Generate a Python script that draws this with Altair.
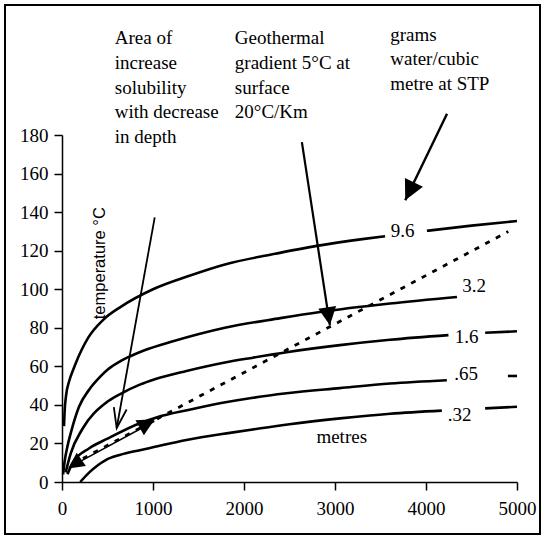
import altair as alt
import pandas as pd

SERIF = "Liberation Serif"
SANS = "Liberation Sans"

# ---- curves (grams water / cubic metre at STP) ----
x_96a = [22, 28, 45, 77, 121, 150, 290, 450, 650, 1000, 1400, 1800, 2300, 2800, 3300, 3550]
y_96a = [29, 36, 45, 52, 58, 61.5, 75, 84, 91, 100, 107, 113, 118, 122.5, 126, 127.5]
x_96b = [4010, 4500, 5000]
y_96b = [130.3, 133, 135.4]

x_32 = [12, 30, 59, 100, 187, 300, 407, 506, 634, 763, 900, 1200, 1790, 2400, 2835, 3605, 4340]
y_32 = [4, 11, 18.3, 26, 39, 48, 54, 58.5, 62.5, 65.5, 68.2, 72.7, 80, 85, 88.2, 92.6, 96]

x_16a = [40, 96, 224, 481, 634, 855, 1020, 1368, 1790, 2100, 2468, 3054, 3605, 4247]
y_16a = [5, 14.9, 27.5, 41, 45.5, 50.5, 53.3, 57.6, 62, 64.5, 67.3, 71, 73.8, 76.2]
x_16b = [4650, 5000]
y_16b = [77.4, 78.2]

x_065a = [60, 114, 300, 500, 855, 1038, 1400, 1734, 2100, 2467, 3054, 3605, 4229]
y_065a = [4, 9.7, 17.5, 22.5, 30.5, 33.5, 37.5, 40.8, 43.7, 46, 48.7, 51.1, 52.8]
x_065b = [4900, 5000]
y_065b = [55, 55]

x_032a = [200, 300, 481, 634, 855, 1000, 1368, 1845, 2100, 2500, 3054, 3605, 4174]
y_032a = [0, 5, 11.4, 14, 16.5, 18, 21.8, 25.5, 27.3, 30, 33, 35.4, 37]
x_032b = [4650, 5000]
y_032b = [38.2, 39]

# geothermal gradient (dotted)
x_geo = [230, 4904]
y_geo = [12.2, 129.9]

# curve labels
lab_text = ["9.6", "3.2", "1.6", ".65", ".32"]
lab_x = [3743, 4529, 4447, 4441, 4370]
lab_y = [130, 101.6, 75, 56, 35]

# annotations
ann_text = ["Area of\nincrease\nsolubility\nwith decrease\nin depth",
            "Geothermal\ngradient 5°C at\nsurface\n20°C/Km",
            "grams\nwater/cubic\nmetre at  STP"]
ann_x = [580, 1899, 3607]
ann_y = [227, 227, 229]

# arrows: shafts
arrow_name = ["area", "area", "geo", "geo", "grams", "grams", "sol", "sol"]
arrow_x = [1019, 601, 2636, 2944, 4231, 3772, 75, 1015]
arrow_y = [137.3, 28, 176.3, 81.3, 191, 146.1, 7.5, 31.5]
arrow_w = [1.8, 1.8, 2.2, 2.2, 2.4, 2.4, 1.5, 1.5]

# filled arrow heads (tip positions)
head_x = [2944, 3772, 68, 1020]
head_y = [81.3, 146.1, 7.0, 32.5]
head_ang = [351.3, 25.7, 55, 241]
head_size = [324, 400, 256, 300]

# open V head
v_x = [601]
v_y = [28]
v_ang = [10.2]

rows = []
for seg, xs_, ys_ in [("9.6a", x_96a, y_96a), ("9.6b", x_96b, y_96b), ("3.2", x_32, y_32),
                      ("1.6a", x_16a, y_16a), ("1.6b", x_16b, y_16b),
                      (".65a", x_065a, y_065a), (".65b", x_065b, y_065b),
                      (".32a", x_032a, y_032a), (".32b", x_032b, y_032b)]:
    for i, (a, b) in enumerate(zip(xs_, ys_)):
        rows.append({"seg": seg, "i": i, "x": a, "y": b})
curves = pd.DataFrame(rows)

xs = alt.Scale(domain=[0, 5000], nice=False, zero=False)
ys = alt.Scale(domain=[0, 180], nice=False, zero=False)

xaxis = alt.Axis(values=[0, 1000, 2000, 3000, 4000, 5000], title=None, grid=False, format="d",
                 labelFont=SERIF, labelFontSize=19, labelColor="black",
                 tickColor="black", domainColor="black", tickSize=8, labelPadding=9,
                 domainWidth=1.5, tickWidth=1.5, labelFlush=False, labelOverlap=False)
yaxis = alt.Axis(values=list(range(0, 181, 20)), title=None, grid=False, format="d",
                 labelFont=SERIF, labelFontSize=19, labelColor="black",
                 tickColor="black", domainColor="black", tickSize=8, labelPadding=6,
                 domainWidth=1.5, tickWidth=1.5, labelOverlap=False, labelFlush=False)


def X():
    return alt.X("x:Q", scale=xs, axis=xaxis)


def Y():
    return alt.Y("y:Q", scale=ys, axis=yaxis)


lines = alt.Chart(curves).mark_line(color="black", strokeWidth=2.6, interpolate="monotone").encode(
    x=X(), y=Y(), detail="seg:N", order="i:Q")

geo = alt.Chart(pd.DataFrame({"x": x_geo, "y": y_geo})).mark_line(
    color="black", strokeWidth=2.8, strokeDash=[5, 7]).encode(x=X(), y=Y())

labels = alt.Chart(pd.DataFrame({"t": lab_text, "x": lab_x, "y": lab_y})).mark_text(
    font=SERIF, fontSize=19, color="black", align="center", baseline="middle").encode(
    x=X(), y=Y(), text="t:N")

ann = alt.Chart(pd.DataFrame({"t": ann_text, "x": ann_x, "y": ann_y})).mark_text(
    font=SERIF, fontSize=19, color="black", align="left", baseline="alphabetic",
    lineBreak="\n", lineHeight=24.6).encode(x=X(), y=Y(), text="t:N")

metres = alt.Chart(pd.DataFrame({"t": ["metres"], "x": [3074], "y": [23.3]})).mark_text(
    font=SERIF, fontSize=19, color="black", align="center", baseline="middle").encode(
    x=X(), y=Y(), text="t:N")

ytitle = alt.Chart(pd.DataFrame({"t": ["temperature °C"], "x": [415], "y": [113.5]})).mark_text(
    font=SANS, fontSize=16.5, color="black", align="center", baseline="middle", angle=270).encode(
    x=X(), y=Y(), text="t:N")

shafts = alt.Chart(pd.DataFrame({"a": arrow_name, "x": arrow_x, "y": arrow_y, "w": arrow_w,
                                 "i": list(range(len(arrow_x)))})).mark_line(color="black").encode(
    x=X(), y=Y(), detail="a:N", order="i:Q",
    strokeWidth=alt.StrokeWidth("w:Q", scale=None))

heads = alt.Chart(pd.DataFrame({"x": head_x, "y": head_y, "ang": head_ang, "s": head_size})).mark_point(
    shape="M0,0L-1,-2L1,-2Z", filled=True, color="black", opacity=1, strokeWidth=0).encode(
    x=X(), y=Y(),
    angle=alt.Angle("ang:Q", scale=None), size=alt.Size("s:Q", scale=None))

vhead = alt.Chart(pd.DataFrame({"x": v_x, "y": v_y, "ang": v_ang})).mark_point(
    shape="M-0.65,-2L0,0L0.65,-2", filled=False, color="black", opacity=1, strokeWidth=1.8, size=400).encode(
    x=X(), y=Y(), angle=alt.Angle("ang:Q", scale=None))

frame = alt.Chart(pd.DataFrame({"k": [0]})).mark_rect(
    filled=False, stroke="black", strokeWidth=2).encode(
    x=alt.value(-57), x2=alt.value(478), y=alt.value(-130), y2=alt.value(399))

chart = alt.layer(lines, geo, shafts, heads, vhead, labels, ann, metres, ytitle, frame).properties(
    width=455, height=347,
    padding={"left": 62, "top": 135, "right": 27, "bottom": 55},
    autosize=alt.AutoSizeParams(type="none"),
    background="white",
).configure_view(stroke=None)

chart.save("out.html", embed_options={"renderer": "svg", "actions": False})
